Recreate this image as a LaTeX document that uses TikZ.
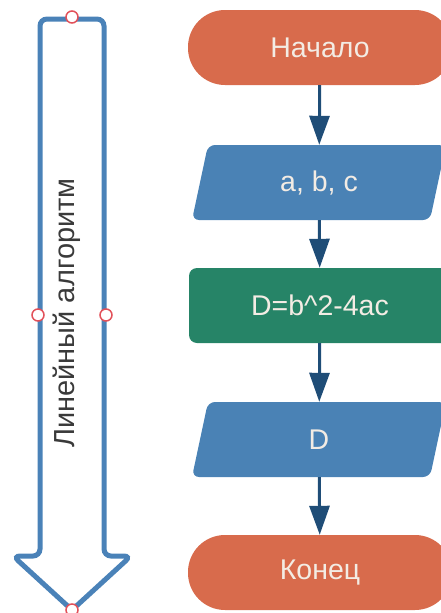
\documentclass[tikz,border=0pt]{standalone}
\usepackage{fontspec}
\setmainfont{Liberation Sans}
\usetikzlibrary{arrows.meta,backgrounds}

\definecolor{termfill}{HTML}{D86B4C}
\definecolor{iofill}{HTML}{4A82B5}
\definecolor{procfill}{HTML}{268467}
\definecolor{flowline}{HTML}{1F4D77}
\definecolor{lighttext}{HTML}{F3ECE4}
\definecolor{darktext}{HTML}{3A3A3A}
\definecolor{bandline}{HTML}{4A82B8}
\definecolor{handlered}{HTML}{E2515A}

\tikzset{
  boxtext/.style={text=lighttext, font=\fontsize{28.5}{29}\selectfont, inner sep=0pt},
  terminal/.style={boxtext, rectangle, rounded corners=37pt, fill=termfill,
    minimum width=264pt, minimum height=75pt},
  process/.style={boxtext, rectangle, rounded corners=8pt, fill=procfill,
    minimum width=262pt, minimum height=75pt},
  iobox/.style={boxtext, rectangle, minimum width=238pt, minimum height=75pt},
  flow/.style={draw=flowline, line width=3pt,
    -{Triangle[width=20pt,length=29pt]}},
  handle/.style={circle, draw=handlered, fill=white, line width=1.5pt,
    minimum size=12pt, inner sep=0pt},
}

\begin{document}
\begin{tikzpicture}[x=1pt,y=-1pt]
\useasboundingbox (0,0) rectangle (441,613);

% flowchart blocks
\node[terminal] (start) at (320,47.5) {Начало};
\node[iobox] (in) at (319,182.5) {a, b, c};
\node[process] (calc) at (320,305.5) {D=b\^{}2-4ac};
\node[iobox] (out) at (319,439.5) {D};
\node[terminal] (stop) at (320,572.5) {Конец};

% parallelogram bodies of the input/output blocks
\begin{scope}[on background layer]
  \fill[iofill, rounded corners=7pt]
    (192,220) -- (208,145) -- (446,145) -- (430,220) -- cycle;
  \fill[iofill, rounded corners=7pt]
    (192,477) -- (208,402) -- (446,402) -- (430,477) -- cycle;
\end{scope}

% connectors
\draw[flow] (start) -- (in);
\draw[flow] (in) -- (calc);
\draw[flow] (calc) -- (out);
\draw[flow] (out) -- (stop);

% downward band arrow on the left
\draw[bandline, line width=5pt, rounded corners=7pt]
  (72,19) -- (104,19) -- (104,556) -- (131,556) -- (72,610)
  -- (13,556) -- (40,556) -- (40,19) -- cycle;
\node[rotate=90, text=darktext, font=\fontsize{29}{29}\selectfont]
  (label) at (67,313) {Линейный алгоритм};

% selection handles
\node[handle] (htop) at (72,17) {};
\node[handle] (hleft) at (38,315) {};
\node[handle] (hright) at (106,315) {};
\node[handle] (hbottom) at (72,610) {};
\end{tikzpicture}
\end{document}
